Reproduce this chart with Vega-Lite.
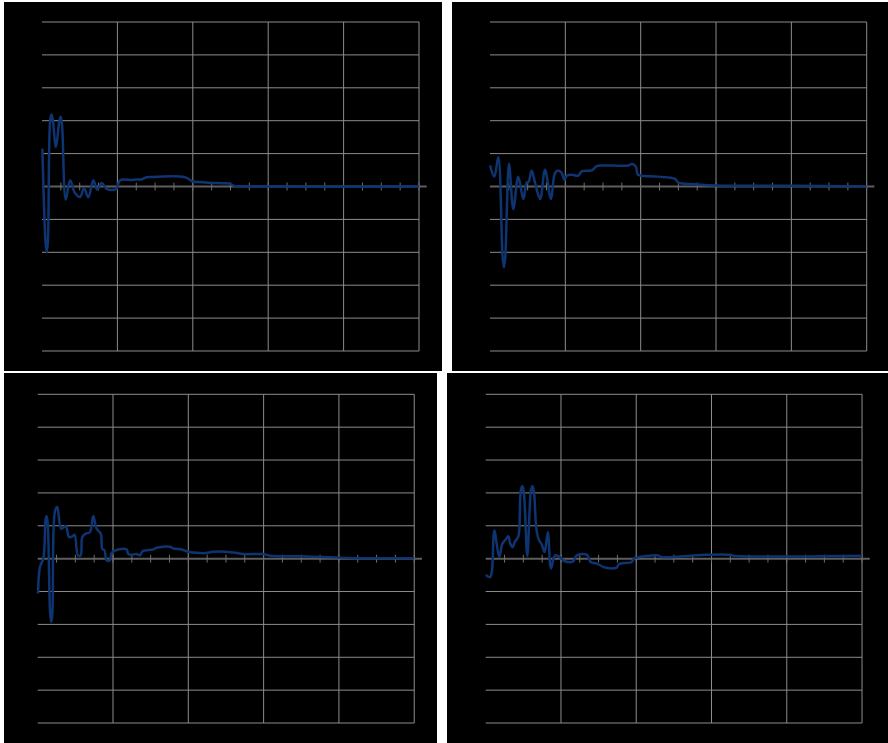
{
  "$schema": "https://vega.github.io/schema/vega-lite/v6.json",
  "background": "white",
  "padding": {"left": 4, "top": 2, "right": 0, "bottom": 0},
  "config": {"view": {"fill": "black", "stroke": null}},
  "datasets": {
    "vgrid": [{"x": 4}, {"x": 8}, {"x": 12}, {"x": 16}, {"x": 20}],
    "hgrid": [{"y": -5}, {"y": -4}, {"y": -3}, {"y": -2}, {"y": -1}, {"y": 1}, {"y": 2}, {"y": 3}, {"y": 4}, {"y": 5}],
    "ticks": [{"x": 1}, {"x": 2}, {"x": 3}, {"x": 5}, {"x": 6}, {"x": 7}, {"x": 9}, {"x": 10}, {"x": 11}, {"x": 13}, {"x": 14}, {"x": 15}, {"x": 17}, {"x": 18}, {"x": 19}, {"x": 4}, {"x": 8}, {"x": 12}, {"x": 16}, {"x": 20}],
    "zero": [{"x": 0, "x2": 20.41, "y": 0}],
    "series": [
      {"panel": "A", "x": 0.02, "y": 1.15}, {"panel": "A", "x": 0.19, "y": -1.7}, {"panel": "A", "x": 0.25, "y": -1.99}, {"panel": "A", "x": 0.31, "y": -1.7}, {"panel": "A", "x": 0.44, "y": 2.05}, {"panel": "A", "x": 0.51, "y": 2.19}, {"panel": "A", "x": 0.58, "y": 2.0}, {"panel": "A", "x": 0.74, "y": 1.2}, {"panel": "A", "x": 0.92, "y": 1.98}, {"panel": "A", "x": 0.99, "y": 2.12}, {"panel": "A", "x": 1.06, "y": 1.9}, {"panel": "A", "x": 1.26, "y": -0.4}, {"panel": "A", "x": 1.49, "y": 0.19}, {"panel": "A", "x": 1.75, "y": -0.2}, {"panel": "A", "x": 2.02, "y": -0.32}, {"panel": "A", "x": 2.23, "y": -0.05}, {"panel": "A", "x": 2.46, "y": -0.33}, {"panel": "A", "x": 2.72, "y": 0.19}, {"panel": "A", "x": 2.93, "y": -0.09}, {"panel": "A", "x": 3.17, "y": 0.11}, {"panel": "A", "x": 3.4, "y": -0.06}, {"panel": "A", "x": 3.7, "y": -0.11}, {"panel": "A", "x": 3.96, "y": -0.06}, {"panel": "A", "x": 4.14, "y": 0.19}, {"panel": "A", "x": 4.75, "y": 0.2}, {"panel": "A", "x": 5.0, "y": 0.21}, {"panel": "A", "x": 5.3, "y": 0.22}, {"panel": "A", "x": 5.55, "y": 0.28}, {"panel": "A", "x": 5.75, "y": 0.29}, {"panel": "A", "x": 7.55, "y": 0.29}, {"panel": "A", "x": 7.8, "y": 0.22}, {"panel": "A", "x": 8.0, "y": 0.15}, {"panel": "A", "x": 8.5, "y": 0.13}, {"panel": "A", "x": 9.0, "y": 0.11}, {"panel": "A", "x": 9.5, "y": 0.1}, {"panel": "A", "x": 9.95, "y": 0.09}, {"panel": "A", "x": 10.2, "y": 0.02}, {"panel": "A", "x": 10.6, "y": 0.01}, {"panel": "A", "x": 11.2, "y": 0}, {"panel": "A", "x": 20, "y": 0},
      {"panel": "B", "x": 0, "y": 0.64}, {"panel": "B", "x": 0.23, "y": 0.3}, {"panel": "B", "x": 0.44, "y": 0.89}, {"panel": "B", "x": 0.67, "y": -2.15}, {"panel": "B", "x": 0.74, "y": -2.46}, {"panel": "B", "x": 0.81, "y": -2.15}, {"panel": "B", "x": 1.01, "y": 0.69}, {"panel": "B", "x": 1.24, "y": -0.69}, {"panel": "B", "x": 1.5, "y": 0.3}, {"panel": "B", "x": 1.77, "y": -0.38}, {"panel": "B", "x": 1.95, "y": 0.12}, {"panel": "B", "x": 2.05, "y": 0.14}, {"panel": "B", "x": 2.21, "y": 0.49}, {"panel": "B", "x": 2.39, "y": 0.12}, {"panel": "B", "x": 2.66, "y": -0.38}, {"panel": "B", "x": 2.92, "y": 0.51}, {"panel": "B", "x": 3.24, "y": -0.38}, {"panel": "B", "x": 3.45, "y": 0.41}, {"panel": "B", "x": 3.63, "y": 0.49}, {"panel": "B", "x": 3.8, "y": 0.42}, {"panel": "B", "x": 3.95, "y": 0.2}, {"panel": "B", "x": 4.07, "y": 0.33}, {"panel": "B", "x": 4.34, "y": 0.36}, {"panel": "B", "x": 4.69, "y": 0.33}, {"panel": "B", "x": 4.87, "y": 0.46}, {"panel": "B", "x": 5.4, "y": 0.49}, {"panel": "B", "x": 5.67, "y": 0.62}, {"panel": "B", "x": 5.93, "y": 0.64}, {"panel": "B", "x": 7.35, "y": 0.64}, {"panel": "B", "x": 7.5, "y": 0.68}, {"panel": "B", "x": 7.65, "y": 0.66}, {"panel": "B", "x": 7.76, "y": 0.58}, {"panel": "B", "x": 7.85, "y": 0.36}, {"panel": "B", "x": 8.06, "y": 0.33}, {"panel": "B", "x": 8.94, "y": 0.3}, {"panel": "B", "x": 9.83, "y": 0.23}, {"panel": "B", "x": 10.0, "y": 0.12}, {"panel": "B", "x": 10.9, "y": 0.07}, {"panel": "B", "x": 12, "y": 0.03}, {"panel": "B", "x": 16, "y": 0.02}, {"panel": "B", "x": 20, "y": 0.0},
      {"panel": "C", "x": 0.02, "y": -1.06}, {"panel": "C", "x": 0.12, "y": -0.25}, {"panel": "C", "x": 0.3, "y": 0.0}, {"panel": "C", "x": 0.41, "y": 1.15}, {"panel": "C", "x": 0.46, "y": 1.3}, {"panel": "C", "x": 0.52, "y": 1.15}, {"panel": "C", "x": 0.66, "y": -1.65}, {"panel": "C", "x": 0.72, "y": -1.93}, {"panel": "C", "x": 0.78, "y": -1.65}, {"panel": "C", "x": 0.92, "y": 1.45}, {"panel": "C", "x": 1.04, "y": 1.57}, {"panel": "C", "x": 1.25, "y": 0.91}, {"panel": "C", "x": 1.49, "y": 0.99}, {"panel": "C", "x": 1.66, "y": 0.66}, {"panel": "C", "x": 1.85, "y": 0.68}, {"panel": "C", "x": 1.96, "y": 0.73}, {"panel": "C", "x": 2.14, "y": 0.1}, {"panel": "C", "x": 2.28, "y": 0.1}, {"panel": "C", "x": 2.37, "y": 0.66}, {"panel": "C", "x": 2.55, "y": 0.76}, {"panel": "C", "x": 2.78, "y": 0.81}, {"panel": "C", "x": 2.95, "y": 1.3}, {"panel": "C", "x": 3.13, "y": 0.91}, {"panel": "C", "x": 3.35, "y": 0.76}, {"panel": "C", "x": 3.43, "y": 0.3}, {"panel": "C", "x": 3.55, "y": 0.25}, {"panel": "C", "x": 3.66, "y": -0.05}, {"panel": "C", "x": 3.84, "y": -0.05}, {"panel": "C", "x": 3.93, "y": 0.18}, {"panel": "C", "x": 4.28, "y": 0.28}, {"panel": "C", "x": 4.73, "y": 0.28}, {"panel": "C", "x": 4.81, "y": 0.14}, {"panel": "C", "x": 4.99, "y": 0.12}, {"panel": "C", "x": 5.26, "y": 0.14}, {"panel": "C", "x": 5.43, "y": 0.1}, {"panel": "C", "x": 5.58, "y": 0.23}, {"panel": "C", "x": 6.14, "y": 0.28}, {"panel": "C", "x": 6.32, "y": 0.33}, {"panel": "C", "x": 7.03, "y": 0.36}, {"panel": "C", "x": 7.2, "y": 0.31}, {"panel": "C", "x": 7.65, "y": 0.28}, {"panel": "C", "x": 8.0, "y": 0.21}, {"panel": "C", "x": 8.62, "y": 0.17}, {"panel": "C", "x": 8.94, "y": 0.17}, {"panel": "C", "x": 9.33, "y": 0.21}, {"panel": "C", "x": 10.39, "y": 0.19}, {"panel": "C", "x": 10.92, "y": 0.14}, {"panel": "C", "x": 11.98, "y": 0.14}, {"panel": "C", "x": 12.34, "y": 0.09}, {"panel": "C", "x": 13.93, "y": 0.07}, {"panel": "C", "x": 15.68, "y": 0.04}, {"panel": "C", "x": 16.6, "y": 0.02}, {"panel": "C", "x": 20, "y": 0.01},
      {"panel": "D", "x": 0, "y": -0.5}, {"panel": "D", "x": 0.23, "y": -0.56}, {"panel": "D", "x": 0.33, "y": -0.38}, {"panel": "D", "x": 0.46, "y": 0.86}, {"panel": "D", "x": 0.72, "y": 0.05}, {"panel": "D", "x": 0.88, "y": 0.45}, {"panel": "D", "x": 1.08, "y": 0.6}, {"panel": "D", "x": 1.2, "y": 0.68}, {"panel": "D", "x": 1.31, "y": 0.45}, {"panel": "D", "x": 1.43, "y": 0.35}, {"panel": "D", "x": 1.54, "y": 0.5}, {"panel": "D", "x": 1.66, "y": 0.6}, {"panel": "D", "x": 1.75, "y": 0.7}, {"panel": "D", "x": 1.86, "y": 2.05}, {"panel": "D", "x": 1.94, "y": 2.21}, {"panel": "D", "x": 2.02, "y": 2.05}, {"panel": "D", "x": 2.21, "y": 0.08}, {"panel": "D", "x": 2.4, "y": 2.05}, {"panel": "D", "x": 2.48, "y": 2.21}, {"panel": "D", "x": 2.56, "y": 2.05}, {"panel": "D", "x": 2.69, "y": 0.93}, {"panel": "D", "x": 2.82, "y": 0.58}, {"panel": "D", "x": 2.98, "y": 0.43}, {"panel": "D", "x": 3.13, "y": 0.2}, {"panel": "D", "x": 3.3, "y": 0.8}, {"panel": "D", "x": 3.47, "y": -0.3}, {"panel": "D", "x": 3.68, "y": 0.1}, {"panel": "D", "x": 3.88, "y": 0.07}, {"panel": "D", "x": 4.21, "y": -0.08}, {"panel": "D", "x": 4.65, "y": -0.08}, {"panel": "D", "x": 4.84, "y": 0.1}, {"panel": "D", "x": 5.37, "y": 0.12}, {"panel": "D", "x": 5.58, "y": -0.1}, {"panel": "D", "x": 5.9, "y": -0.15}, {"panel": "D", "x": 6.34, "y": -0.27}, {"panel": "D", "x": 6.96, "y": -0.27}, {"panel": "D", "x": 7.08, "y": -0.17}, {"panel": "D", "x": 7.76, "y": -0.1}, {"panel": "D", "x": 7.88, "y": 0.0}, {"panel": "D", "x": 8.55, "y": 0.08}, {"panel": "D", "x": 9.15, "y": 0.1}, {"panel": "D", "x": 9.35, "y": 0.05}, {"panel": "D", "x": 9.97, "y": 0.05}, {"panel": "D", "x": 10.86, "y": 0.09}, {"panel": "D", "x": 11.74, "y": 0.12}, {"panel": "D", "x": 12.98, "y": 0.12}, {"panel": "D", "x": 13.16, "y": 0.09}, {"panel": "D", "x": 20, "y": 0.09}
    ]
  },
  "vconcat": [
    {
      "spacing": 10,
      "hconcat": [
        {
          "width": 438, "height": 369,
          "layer": [
            {"data": {"name": "vgrid"}, "mark": {"type": "rule", "color": "#8c8c8c", "strokeWidth": 1},
             "encoding": {"x": {"field": "x", "type": "quantitative", "scale": {"domain": [-2.016, 21.22], "nice": false, "zero": false}, "axis": null},
                          "y": {"datum": -5, "type": "quantitative", "scale": {"domain": [-5.608, 5.608], "nice": false, "zero": false}, "axis": null},
                          "y2": {"datum": 5}}},
            {"data": {"name": "hgrid"}, "mark": {"type": "rule", "color": "#8c8c8c", "strokeWidth": 1},
             "encoding": {"y": {"field": "y", "type": "quantitative"}, "x": {"datum": 0, "type": "quantitative"}, "x2": {"datum": 20}}},
            {"data": {"name": "zero"}, "mark": {"type": "rule", "color": "#5e5e5e", "strokeWidth": 2},
             "encoding": {"y": {"field": "y", "type": "quantitative"}, "x": {"field": "x", "type": "quantitative"}, "x2": {"field": "x2"}}},
            {"data": {"name": "ticks"}, "mark": {"type": "rule", "color": "#6e6e6e", "strokeWidth": 1},
             "encoding": {"x": {"field": "x", "type": "quantitative"}, "y": {"datum": -0.12, "type": "quantitative"}, "y2": {"datum": 0.12}}},
            {"data": {"name": "series"}, "transform": [{"filter": "datum.panel === 'A'"}],
             "mark": {"type": "line", "color": "#0e3471", "strokeWidth": 2.5, "interpolate": "catmull-rom"},
             "encoding": {"x": {"field": "x", "type": "quantitative"}, "y": {"field": "y", "type": "quantitative"}}}
          ]
        },
        {
          "width": 436, "height": 369,
          "layer": [
            {"data": {"name": "vgrid"}, "mark": {"type": "rule", "color": "#8c8c8c", "strokeWidth": 1},
             "encoding": {"x": {"field": "x", "type": "quantitative", "scale": {"domain": [-2.017, 21.13], "nice": false, "zero": false}, "axis": null},
                          "y": {"datum": -5, "type": "quantitative", "scale": {"domain": [-5.608, 5.608], "nice": false, "zero": false}, "axis": null},
                          "y2": {"datum": 5}}},
            {"data": {"name": "hgrid"}, "mark": {"type": "rule", "color": "#8c8c8c", "strokeWidth": 1},
             "encoding": {"y": {"field": "y", "type": "quantitative"}, "x": {"datum": 0, "type": "quantitative"}, "x2": {"datum": 20}}},
            {"data": {"name": "zero"}, "mark": {"type": "rule", "color": "#5e5e5e", "strokeWidth": 2},
             "encoding": {"y": {"field": "y", "type": "quantitative"}, "x": {"field": "x", "type": "quantitative"}, "x2": {"field": "x2"}}},
            {"data": {"name": "ticks"}, "mark": {"type": "rule", "color": "#6e6e6e", "strokeWidth": 1},
             "encoding": {"x": {"field": "x", "type": "quantitative"}, "y": {"datum": -0.12, "type": "quantitative"}, "y2": {"datum": 0.12}}},
            {"data": {"name": "series"}, "transform": [{"filter": "datum.panel === 'B'"}],
             "mark": {"type": "line", "color": "#0e3471", "strokeWidth": 2.5, "interpolate": "catmull-rom"},
             "encoding": {"x": {"field": "x", "type": "quantitative"}, "y": {"field": "y", "type": "quantitative"}}}
          ]
        }
      ]
    },
    {
      "spacing": 10,
      "hconcat": [
        {
          "width": 433, "height": 370,
          "layer": [
            {"data": {"name": "vgrid"}, "mark": {"type": "rule", "color": "#8c8c8c", "strokeWidth": 1},
             "encoding": {"x": {"field": "x", "type": "quantitative", "scale": {"domain": [-1.79, 21.21], "nice": false, "zero": false}, "axis": null},
                          "y": {"datum": -5, "type": "quantitative", "scale": {"domain": [-5.608, 5.648], "nice": false, "zero": false}, "axis": null},
                          "y2": {"datum": 5}}},
            {"data": {"name": "hgrid"}, "mark": {"type": "rule", "color": "#8c8c8c", "strokeWidth": 1},
             "encoding": {"y": {"field": "y", "type": "quantitative"}, "x": {"datum": 0, "type": "quantitative"}, "x2": {"datum": 20}}},
            {"data": {"name": "zero"}, "mark": {"type": "rule", "color": "#5e5e5e", "strokeWidth": 2},
             "encoding": {"y": {"field": "y", "type": "quantitative"}, "x": {"field": "x", "type": "quantitative"}, "x2": {"field": "x2"}}},
            {"data": {"name": "ticks"}, "mark": {"type": "rule", "color": "#6e6e6e", "strokeWidth": 1},
             "encoding": {"x": {"field": "x", "type": "quantitative"}, "y": {"datum": -0.12, "type": "quantitative"}, "y2": {"datum": 0.12}}},
            {"data": {"name": "series"}, "transform": [{"filter": "datum.panel === 'C'"}],
             "mark": {"type": "line", "color": "#0e3471", "strokeWidth": 2.5, "interpolate": "catmull-rom"},
             "encoding": {"x": {"field": "x", "type": "quantitative"}, "y": {"field": "y", "type": "quantitative"}}}
          ]
        },
        {
          "width": 441, "height": 370,
          "layer": [
            {"data": {"name": "vgrid"}, "mark": {"type": "rule", "color": "#8c8c8c", "strokeWidth": 1},
             "encoding": {"x": {"field": "x", "type": "quantitative", "scale": {"domain": [-2.057, 21.38], "nice": false, "zero": false}, "axis": null},
                          "y": {"datum": -5, "type": "quantitative", "scale": {"domain": [-5.608, 5.648], "nice": false, "zero": false}, "axis": null},
                          "y2": {"datum": 5}}},
            {"data": {"name": "hgrid"}, "mark": {"type": "rule", "color": "#8c8c8c", "strokeWidth": 1},
             "encoding": {"y": {"field": "y", "type": "quantitative"}, "x": {"datum": 0, "type": "quantitative"}, "x2": {"datum": 20}}},
            {"data": {"name": "zero"}, "mark": {"type": "rule", "color": "#5e5e5e", "strokeWidth": 2},
             "encoding": {"y": {"field": "y", "type": "quantitative"}, "x": {"field": "x", "type": "quantitative"}, "x2": {"field": "x2"}}},
            {"data": {"name": "ticks"}, "mark": {"type": "rule", "color": "#6e6e6e", "strokeWidth": 1},
             "encoding": {"x": {"field": "x", "type": "quantitative"}, "y": {"datum": -0.12, "type": "quantitative"}, "y2": {"datum": 0.12}}},
            {"data": {"name": "series"}, "transform": [{"filter": "datum.panel === 'D'"}],
             "mark": {"type": "line", "color": "#0e3471", "strokeWidth": 2.5, "interpolate": "catmull-rom"},
             "encoding": {"x": {"field": "x", "type": "quantitative"}, "y": {"field": "y", "type": "quantitative"}}}
          ]
        }
      ]
    }
  ],
  "spacing": 2
}
